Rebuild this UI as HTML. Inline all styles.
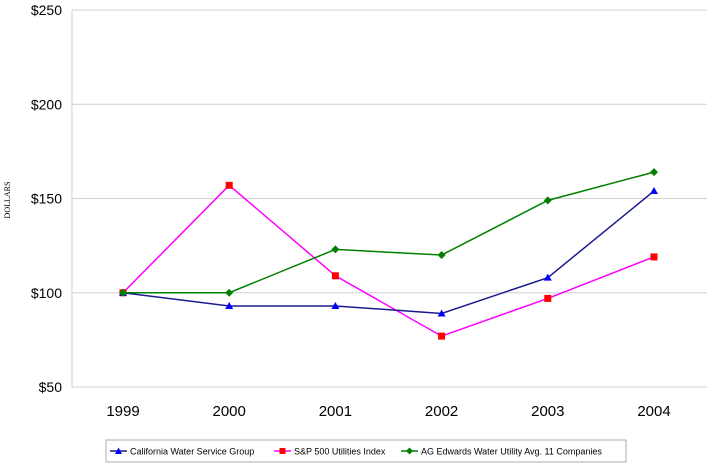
<!DOCTYPE html>
<html><head><meta charset="utf-8"><style>
body{margin:0;background:#fff;}
svg{display:block;font-family:"Liberation Sans",Arial,sans-serif;}
</style></head><body>
<svg id="chart" width="707" height="464">
<g id="grid"></g><g id="axes"></g><g id="series"></g>
<text x="10" y="200" transform="rotate(-90 10 200)" text-anchor="middle" font-family="Liberation Serif,serif" font-size="8">DOLLARS</text>
<g>
<rect x="106" y="440" width="520" height="22" fill="#fff" stroke="#999" stroke-width="0.8"/>
<g><line x1="110" y1="451" x2="127" y2="451" stroke="#1a1a8c" stroke-width="1.5"/><path d="M118.5,447.5 L122,454 L115,454Z" fill="#0000ff"/><text x="130" y="454.5" font-size="9">California Water Service Group</text></g>
<g><line x1="274" y1="451" x2="291" y2="451" stroke="#ff00ff" stroke-width="1.5"/><rect x="279.5" y="448" width="6" height="6" fill="#ff0000"/><text x="294" y="454.5" font-size="9">S&amp;P 500 Utilities Index</text></g>
<g><line x1="401" y1="451" x2="418" y2="451" stroke="#008000" stroke-width="1.5"/><path d="M409.5,447.5 L413,451 L409.5,454.5 L406,451Z" fill="#008000"/><text x="421" y="454.5" font-size="9">AG Edwards Water Utility Avg. 11 Companies</text></g>
</g>
</svg>
<script>
const categories=["1999","2000","2001","2002","2003","2004"];
const cwsValues=[100,93,93,89,108,154];
const spValues=[100,157,109,77,97,119];
const agValues=[100,100,123,120,149,164];
const yTicks=[50,100,150,200,250];
const yTickLabels=["$50","$100","$150","$200","$250"];
const NS="http://www.w3.org/2000/svg";
const x0=72,x1=707,yTop=10,yBot=387,yMin=50,yMax=250;
function xs(i){return 123+i*106.2;}
function ys(v){return yBot-(v-yMin)/(yMax-yMin)*(yBot-yTop);}
function mk(tag,attrs,parent){const e=document.createElementNS(NS,tag);for(const k in attrs)e.setAttribute(k,attrs[k]);parent.appendChild(e);return e;}
const grid=document.getElementById('grid'),axes=document.getElementById('axes'),ser=document.getElementById('series');
yTicks.forEach((t,i)=>{
 const l=mk('line',{x1:x0,x2:x1,y1:ys(t),y2:ys(t),stroke:'#d0d0d0','stroke-width':1},grid);
 
 
 const tx=mk('text',{x:x0-10,y:ys(t)+5,'text-anchor':'end','font-size':14},axes);
 tx.textContent=yTickLabels[i];
 
 
});
const ax=mk('line',{x1:x0,x2:x0,y1:yTop,y2:yBot,stroke:'#d0d0d0','stroke-width':1},axes);


categories.forEach((c,i)=>{
 const tx=mk('text',{x:xs(i),y:416,'text-anchor':'middle','font-size':15},axes);
 tx.textContent=c;
 
 
});
function series(vals,color,mcolor,shape,name){
 const g=mk('g',{},ser);
 
 
 const pts=vals.map((v,i)=>xs(i)+','+ys(v)).join(' ');
 mk('polyline',{points:pts,fill:'none',stroke:color,'stroke-width':1.5},g);
 vals.forEach((v,i)=>{
  const x=xs(i),y=ys(v);let m;
  if(shape==='tri')m=mk('path',{d:`M${x},${y-4} L${x+4},${y+3} L${x-4},${y+3}Z`,fill:mcolor},g);
  else if(shape==='sq')m=mk('rect',{x:x-3.5,y:y-3.5,width:7,height:7,fill:mcolor},g);
  else m=mk('path',{d:`M${x},${y-4} L${x+4},${y} L${x},${y+4} L${x-4},${y}Z`,fill:mcolor},g);
  
  
 });
}
series(spValues,'#ff00ff','#ff0000','sq','sp500-series');
series(cwsValues,'#1a1a8c','#0000ff','tri','cws-series');
series(agValues,'#008000','#008000','dia','ag-edwards-series');
</script>
</body></html>
